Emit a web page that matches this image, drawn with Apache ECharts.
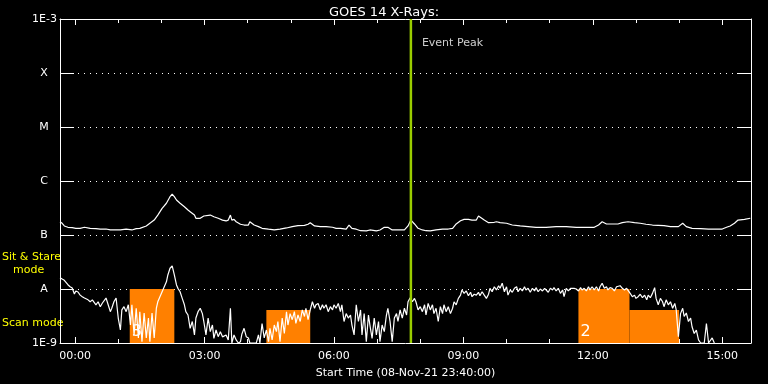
<!DOCTYPE html>
<html>
<head>
<meta charset="utf-8">
<script src="https://cdn.jsdelivr.net/npm/echarts@6/dist/echarts.min.js"></script>
<style>
html,body{margin:0;padding:0;background:#000;}
#chart{width:768px;height:384px;}
</style>
</head>
<body>
<div id="chart"></div>
<script>
// Time in minutes after 00:00 on 09-Nov-21 (start 23:40 on 08-Nov-21)
const xMin = -21, xMax = 940;
const majorTicks = [0, 180, 360, 540, 720, 900];
const xTickLabels = ['00:00', '03:00', '06:00', '09:00', '12:00', '15:00'];
const minorTicks = [60, 120, 240, 300, 420, 480, 600, 660, 780, 840];
const yTickLabels = ['1E-9', 'A', 'B', 'C', 'M', 'X', '1E-3'];
const eventPeak = 467;

// GOES 1-8 A channel (W/m^2)
const longChannel = [
[-21,1.76e-7],[-18,1.65e-7],[-15,1.47e-7],[-10,1.39e-7],[-4,1.37e-7],[1,1.33e-7],[7,1.33e-7],[13,1.39e-7],
[15,1.43e-7],[21,1.33e-7],[29,1.31e-7],[35,1.28e-7],[43,1.29e-7],[49,1.24e-7],[57,1.24e-7],[63,1.24e-7],
[71,1.28e-7],[79,1.24e-7],[85,1.31e-7],[90,1.33e-7],[99,1.47e-7],[104,1.65e-7],[110,1.89e-7],[115,2.34e-7],
[121,3.12e-7],[127,3.87e-7],[132,5.12e-7],[135,5.68e-7],[138,5.12e-7],[141,4.45e-7],[146,3.87e-7],[152,3.34e-7],
[157,2.90e-7],[160,2.70e-7],[166,2.34e-7],[168,2.04e-7],[174,2.04e-7],[179,2.25e-7],[188,2.34e-7],[193,2.18e-7],
[199,2.04e-7],[205,1.89e-7],[210,1.82e-7],[213,1.89e-7],[216,2.34e-7],[218,1.89e-7],[221,1.95e-7],[224,1.76e-7],
[230,1.58e-7],[235,1.53e-7],[241,1.53e-7],[243,1.76e-7],[249,1.53e-7],[255,1.43e-7],[260,1.33e-7],[269,1.28e-7],
[277,1.24e-7],[285,1.28e-7],[294,1.35e-7],[302,1.43e-7],[310,1.49e-7],[319,1.51e-7],[324,1.58e-7],[327,1.69e-7],
[333,1.47e-7],[341,1.43e-7],[349,1.43e-7],[358,1.39e-7],[363,1.33e-7],[369,1.33e-7],[377,1.28e-7],[381,1.53e-7],
[385,1.33e-7],[391,1.28e-7],[397,1.20e-7],[405,1.19e-7],[410,1.24e-7],[419,1.19e-7],[424,1.24e-7],[430,1.39e-7],
[435,1.39e-7],[441,1.24e-7],[447,1.24e-7],[452,1.24e-7],[458,1.24e-7],[463,1.47e-7],[467,1.89e-7],[472,1.60e-7],
[477,1.33e-7],[483,1.24e-7],[488,1.20e-7],[494,1.19e-7],[502,1.24e-7],[511,1.28e-7],[519,1.29e-7],[525,1.33e-7],
[530,1.60e-7],[536,1.84e-7],[541,1.95e-7],[547,1.95e-7],[552,1.89e-7],[558,1.89e-7],[561,2.25e-7],[563,2.32e-7],
[569,1.89e-7],[575,1.69e-7],[583,1.72e-7],[586,1.76e-7],[591,1.69e-7],[600,1.65e-7],[608,1.53e-7],[619,1.47e-7],
[630,1.43e-7],[641,1.39e-7],[655,1.39e-7],[669,1.43e-7],[683,1.43e-7],[697,1.39e-7],[711,1.39e-7],[722,1.39e-7],
[728,1.53e-7],[733,1.76e-7],[739,1.60e-7],[747,1.60e-7],[755,1.60e-7],[761,1.69e-7],[769,1.76e-7],[778,1.69e-7],
[786,1.65e-7],[794,1.58e-7],[803,1.53e-7],[811,1.51e-7],[819,1.49e-7],[828,1.43e-7],[839,1.43e-7],[845,1.65e-7],
[850,1.43e-7],[858,1.33e-7],[870,1.31e-7],[881,1.29e-7],[892,1.28e-7],[900,1.29e-7],[906,1.39e-7],[911,1.47e-7],
[917,1.65e-7],[922,1.89e-7],[931,1.95e-7],[939,2.04e-7]
];

// GOES 0.5-4 A channel (W/m^2)
const shortChannel = [
[-21,1.62e-8],[-18,1.53e-8],[-15,1.45e-8],[-13,1.36e-8],[-10,1.2e-8],[-7,1.10e-8],[-4,1.04e-8],[-1,8.1e-9],
[1,9.2e-9],[4,8.8e-9],[7,7.7e-9],[10,7.2e-9],[13,6.8e-9],[15,6.9e-9],[18,6.3e-9],[21,5.8e-9],
[24,6.3e-9],[26,6.3e-9],[29,5.1e-9],[32,5.8e-9],[35,4.7e-9],[38,5.5e-9],[40,5.5e-9],[43,6.8e-9],
[46,5.1e-9],[49,3.8e-9],[51,4.4e-9],[54,5.8e-9],[57,6.8e-9],[60,2.9e-9],[63,1.74e-9],[65,4.1e-9],
[68,4.7e-9],[71,3.8e-9],[74,5.1e-9],[77,2.15e-9],[79,5.1e-9],[82,1.41e-9],[85,4.4e-9],[88,1.24e-9],
[90,3.8e-9],[93,1.06e-9],[96,3.6e-9],[99,1.24e-9],[102,2.9e-9],[104,1.06e-9],[107,3.6e-9],[110,1.24e-9],
[113,4.4e-9],[115,5.8e-9],[118,7.2e-9],[121,8.9e-9],[124,1.10e-8],[127,1.36e-8],[129,1.82e-8],[132,2.42e-8],
[135,2.67e-8],[138,1.82e-8],[141,1.19e-8],[143,1.03e-8],[146,8.9e-9],[149,6.7e-9],[152,5.1e-9],[154,3.8e-9],
[157,3.3e-9],[160,1.87e-9],[163,2.5e-9],[166,1.41e-9],[168,2.9e-9],[171,3.8e-9],[174,4.4e-9],[177,3.5e-9],
[179,2.5e-9],[182,1.41e-9],[185,2.9e-9],[188,1.62e-9],[191,2.15e-9],[193,1.22e-9],[196,1.74e-9],[199,1.31e-9],
[202,1.62e-9],[205,1.3e-9],[207,1.24e-9],[210,1.41e-9],[213,1.14e-9],[216,4.4e-9],[218,1.0e-9],[221,1.41e-9],
[224,1.14e-9],[227,1.0e-9],[230,1.06e-9],[232,1.47e-9],[235,1.87e-9],[238,1.31e-9],[241,1.24e-9],[243,1.0e-9],
[246,1.0e-9],[249,1.0e-9],[252,1.0e-9],[255,1.41e-9],[257,1.0e-9],[260,2.3e-9],[263,1.24e-9],[266,1.74e-9],
[269,1.06e-9],[271,1.87e-9],[274,1.14e-9],[277,2.15e-9],[280,1.62e-9],[282,2.5e-9],[285,1.06e-9],[288,2.9e-9],
[291,1.51e-9],[294,3.8e-9],[296,2.15e-9],[299,3.5e-9],[302,2.7e-9],[305,3.8e-9],[307,2.3e-9],[310,3.3e-9],
[313,2.5e-9],[316,4.1e-9],[319,3.1e-9],[321,4.4e-9],[324,2.7e-9],[327,4.1e-9],[330,5.8e-9],[333,4.4e-9],
[335,5.1e-9],[338,5.4e-9],[341,4.1e-9],[344,5.1e-9],[346,4.4e-9],[349,5.1e-9],[352,3.8e-9],[355,4.7e-9],
[358,4.1e-9],[360,5.1e-9],[363,4.4e-9],[366,5.4e-9],[369,3.8e-9],[371,5.1e-9],[374,2.5e-9],[377,3.5e-9],
[380,2.9e-9],[383,3.3e-9],[385,2.15e-9],[388,1.41e-9],[391,5.1e-9],[394,2.5e-9],[397,4.1e-9],[399,1.41e-9],
[402,3.5e-9],[405,1.06e-9],[408,3.3e-9],[410,2.15e-9],[413,1.22e-9],[416,2.9e-9],[419,1.41e-9],[422,2.5e-9],
[424,1.06e-9],[427,2.15e-9],[430,1.62e-9],[433,3.3e-9],[435,4.4e-9],[438,2.5e-9],[441,1.06e-9],[444,2.9e-9],
[447,3.5e-9],[449,2.5e-9],[452,4.1e-9],[455,2.9e-9],[458,4.4e-9],[461,3.3e-9],[463,5.8e-9],[466,6.9e-9],
[469,5.8e-9],[472,6.7e-9],[474,5.8e-9],[477,4.1e-9],[480,4.7e-9],[483,3.8e-9],[486,5.1e-9],[488,3.3e-9],
[491,5.4e-9],[494,4.1e-9],[497,5.1e-9],[499,3.5e-9],[502,4.4e-9],[505,2.5e-9],[508,4.7e-9],[511,3.5e-9],
[513,5.1e-9],[516,3.8e-9],[519,4.7e-9],[522,3.5e-9],[525,4.4e-9],[527,5.8e-9],[530,5.1e-9],[533,6.7e-9],
[536,7.7e-9],[538,9.6e-9],[541,8.3e-9],[544,9.2e-9],[547,7.5e-9],[550,8.7e-9],[552,7.2e-9],[555,8.0e-9],
[558,7.7e-9],[561,8.7e-9],[563,7.5e-9],[566,8.9e-9],[569,7.7e-9],[572,6.7e-9],[575,8.0e-9],[577,1.03e-8],
[580,8.9e-9],[583,1.10e-8],[586,9.6e-9],[589,1.15e-8],[591,1.03e-8],[594,1.28e-8],[597,8.9e-9],[600,1.10e-8],
[602,7.7e-9],[605,9.6e-9],[608,8.7e-9],[611,1.03e-8],[614,1.10e-8],[616,8.9e-9],[619,1.03e-8],[622,9.2e-9],
[625,1.10e-8],[627,9.6e-9],[630,1.03e-8],[633,8.7e-9],[636,1.03e-8],[639,9.2e-9],[641,1.06e-8],[644,8.9e-9],
[647,1.0e-8],[650,9.2e-9],[653,1.03e-8],[655,9.6e-9],[658,8.7e-9],[661,1.03e-8],[664,9.6e-9],[666,1.06e-8],
[669,9.2e-9],[672,1.03e-8],[675,8.3e-9],[678,9.6e-9],[680,7.2e-9],[683,1.03e-8],[686,9.2e-9],[689,1.03e-8],
[691,9.6e-9],[694,1.03e-8],[697,1.0e-8],[700,9.2e-9],[703,1.06e-8],[705,9.6e-9],[708,1.03e-8],[711,9.2e-9],
[714,1.1e-8],[716,9.6e-9],[719,1.10e-8],[722,9.6e-9],[725,1.10e-8],[728,9.2e-9],[730,1.10e-8],[733,1.28e-8],
[736,1.03e-8],[739,1.10e-8],[741,9.6e-9],[744,1.06e-8],[747,1.03e-8],[750,9.2e-9],[753,1.10e-8],[755,1.03e-8],
[758,1.15e-8],[761,1.03e-8],[764,9.6e-9],[767,1.03e-8],[769,9.7e-9],[772,8.3e-9],[775,7.2e-9],[778,7.7e-9],
[780,6.7e-9],[783,7.2e-9],[786,8.0e-9],[789,6.9e-9],[792,7.7e-9],[795,6.3e-9],[797,7.7e-9],[800,6.9e-9],
[803,8.3e-9],[806,1.06e-8],[808,6.7e-9],[811,5.1e-9],[814,6.7e-9],[817,5.8e-9],[819,4.7e-9],[822,6.3e-9],
[825,5.1e-9],[828,5.8e-9],[831,4.4e-9],[834,5.4e-9],[836,4.1e-9],[839,1.31e-9],[842,3.5e-9],[845,4.4e-9],
[847,3.1e-9],[850,3.6e-9],[853,2.5e-9],[856,2.9e-9],[858,2.0e-9],[861,1.5e-9],[864,1.74e-9],[867,1.14e-9],
[870,1.0e-9],[872,1.06e-9],[875,1.0e-9],[878,2.3e-9],[881,1.0e-9],[883,1.0e-9],[886,1.24e-9],[889,1.0e-9]
];

// Scan-mode intervals: start, end (minutes), level
const modeStart = [76, 266, 700, 771];
const modeEnd = [138, 327, 771, 840];
const modeLevel = [1.0e-8, 4.1e-9, 1.0e-8, 4.1e-9];
const modeLabel = ['3', '', '2', ''];

const FONT = 'DejaVu Sans';
const chart = echarts.init(document.getElementById('chart'));

const modeData = modeStart.map((s, i) => [s, modeEnd[i], modeLevel[i]]);

chart.setOption({
  backgroundColor: '#000',
  animation: false,
  title: {
    text: 'GOES 14 X-Rays:', left: 'center', top: 1,
    textStyle: { color: '#fff', fontSize: 13, fontWeight: 'normal', fontFamily: FONT }
  },
  grid: { left: 60, right: 17, top: 19, bottom: 41 },
  xAxis: [
    {
      type: 'value', position: 'bottom', min: xMin, max: xMax,
      axisLine: { show: true, onZero: false, lineStyle: { color: '#fff', width: 1 } },
      axisTick: { show: true, inside: true, length: 6, customValues: majorTicks, lineStyle: { color: '#fff' } },
      axisLabel: {
        show: true, customValues: majorTicks, color: '#fff', fontSize: 11, fontFamily: FONT, margin: 8,
        formatter: v => xTickLabels[majorTicks.indexOf(v)] || ''
      },
      splitLine: { show: false },
      name: 'Start Time (08-Nov-21 23:40:00)', nameLocation: 'middle', nameGap: 25,
      nameTextStyle: { color: '#fff', fontSize: 11, fontFamily: FONT }
    },
    {
      type: 'value', position: 'bottom', min: xMin, max: xMax,
      axisLine: { show: false },
      axisTick: { show: true, inside: true, length: 4, customValues: minorTicks, lineStyle: { color: '#fff' } },
      axisLabel: { show: false }, splitLine: { show: false }
    },
    {
      type: 'value', position: 'top', min: xMin, max: xMax,
      axisLine: { show: true, onZero: false, lineStyle: { color: '#fff', width: 1 } },
      axisTick: { show: true, inside: true, length: 6, customValues: majorTicks, lineStyle: { color: '#fff' } },
      axisLabel: { show: false }, splitLine: { show: false }
    },
    {
      type: 'value', position: 'top', min: xMin, max: xMax,
      axisLine: { show: false },
      axisTick: { show: true, inside: true, length: 4, customValues: minorTicks, lineStyle: { color: '#fff' } },
      axisLabel: { show: false }, splitLine: { show: false }
    }
  ],
  yAxis: [
    {
      type: 'log', logBase: 10, min: 1e-9, max: 1e-3, position: 'left',
      axisLine: { show: true, onZero: false, lineStyle: { color: '#fff', width: 1 } },
      axisTick: { show: true, inside: true, length: 14, lineStyle: { color: '#fff' } },
      axisLabel: {
        color: '#fff', fontSize: 11, fontFamily: FONT, margin: 3,
        formatter: v => {
          const k = Math.round(Math.log10(v)) + 9;
          const t = yTickLabels[k] || '';
          return t.length === 1 ? '{c|' + t + '}' : t;
        },
        rich: { c: { width: 26, align: 'center', color: '#fff', fontSize: 11, fontFamily: FONT } }
      },
      splitLine: { show: true, lineStyle: { color: '#fff', width: 1, type: [1, 5] } }
    },
    {
      type: 'log', logBase: 10, min: 1e-9, max: 1e-3, position: 'right',
      axisLine: { show: true, onZero: false, lineStyle: { color: '#fff', width: 1 } },
      axisTick: { show: true, inside: true, length: 14, lineStyle: { color: '#fff' } },
      axisLabel: { show: false }, splitLine: { show: false }
    }
  ],
  graphic: [
    { type: 'text', left: 2, top: 252, style: { text: 'Sit & Stare', fill: '#ffff00', font: '11px "DejaVu Sans"' } },
    { type: 'text', left: 13, top: 265, style: { text: 'mode', fill: '#ffff00', font: '11px "DejaVu Sans"' } },
    { type: 'text', left: 2, top: 318, style: { text: 'Scan mode', fill: '#ffff00', font: '11px "DejaVu Sans"' } }
  ],
  series: [
    {
      type: 'custom', xAxisIndex: 0, yAxisIndex: 0, z: 1,
      data: modeData,
      encode: { x: [0, 1], y: 2 },
      renderItem: (params, api) => {
        const p0 = api.coord([api.value(0), api.value(2)]);
        const p1 = api.coord([api.value(1), 1e-9]);
        const lab = modeLabel[params.dataIndex];
        return {
          type: 'group',
          children: [
            { type: 'rect', shape: { x: p0[0], y: p0[1], width: p1[0] - p0[0], height: p1[1] - p0[1] },
              style: { fill: '#ff8000' } },
            { type: 'text', style: { text: lab, x: p0[0] + 2, y: p1[1] - 3, fill: '#fff',
              font: '16px "DejaVu Sans"', verticalAlign: 'bottom', align: 'left' } }
          ]
        };
      }
    },
    {
      type: 'line', xAxisIndex: 0, yAxisIndex: 0, z: 3, data: longChannel,
      showSymbol: false, lineStyle: { color: '#fff', width: 1.2 }, silent: true
    },
    {
      type: 'line', xAxisIndex: 0, yAxisIndex: 0, z: 3, data: shortChannel,
      showSymbol: false, lineStyle: { color: '#fff', width: 1.2 }, silent: true
    },
    {
      type: 'line', xAxisIndex: 0, yAxisIndex: 0, z: 4,
      data: [[eventPeak, 1e-9], [eventPeak, 1e-3]],
      showSymbol: false, lineStyle: { color: '#9acd00', width: 2.5 }, silent: true
    },
    {
      type: 'scatter', xAxisIndex: 0, yAxisIndex: 0, z: 5,
      data: [[eventPeak, 3.6e-4]], symbolSize: 0,
      label: { show: true, position: 'right', distance: 11, formatter: 'Event Peak',
        color: '#fff', fontSize: 11, fontFamily: FONT }
    }
  ]
});
</script>
</body>
</html>
